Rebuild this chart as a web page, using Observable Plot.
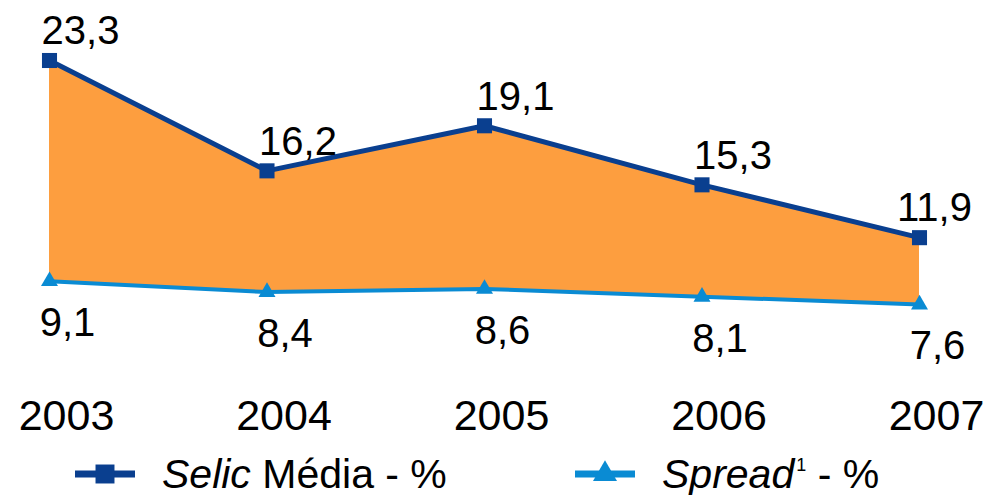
<!DOCTYPE html>
<html>
<head>
<meta charset="utf-8">
<script src="https://cdn.jsdelivr.net/npm/d3@7"></script>
<script src="https://cdn.jsdelivr.net/npm/@observablehq/plot@0.6"></script>
<style>
  body { margin: 0; background: #fff; font-family: "Liberation Sans", Arial, sans-serif; overflow: hidden; }
  #wrap { width: 994px; position: relative; }
  #legend { position: relative; width: 994px; height: 55px; font-size: 41px; color: #000; }
  .item { position: absolute; top: 1px; height: 66px; display: flex; align-items: center; }
  .item span { line-height: 1; }
  .item svg { margin-right: 27px; }
  sup { font-size: 18px; line-height: 0; vertical-align: 17px; margin-left: 2px; }
</style>
</head>
<body>
<div id="wrap">
  <div id="chart"></div>
  <div id="legend"></div>
</div>
<script>
const years = [2003, 2004, 2005, 2006, 2007];
const selic = [23.3, 16.2, 19.1, 15.3, 11.9];
const spread = [9.1, 8.4, 8.6, 8.1, 7.6];

const selicColor = "#0A3F8F";
const spreadColor = "#0A8BD3";
const fillColor = "#FD9E3F";

const data = years.map((year, i) => ({year, selic: selic[i], spread: spread[i]}));
const fmt = v => v.toFixed(1).replace(".", ",");

const chart = Plot.plot({
  width: 994,
  height: 440,
  marginBottom: 60,
  x: {domain: [2003, 2007], range: [49, 919], axis: null},
  y: {domain: [7.6, 23.3], range: [304, 60], axis: null},
  style: {fontFamily: "'Liberation Sans', Arial, sans-serif", color: "#000", background: "#fff"},
  marks: [
    Plot.areaY(data, {x: "year", y1: "spread", y2: "selic", fill: fillColor}),
    Plot.line(data, {x: "year", y: "selic", stroke: selicColor, strokeWidth: 5}),
    Plot.line(data, {x: "year", y: "spread", stroke: spreadColor, strokeWidth: 4}),
    Plot.dot(data, {x: "year", y: "selic", symbol: "square", r: 8.5, fill: selicColor}),
    Plot.dot(data, {x: "year", y: "spread", symbol: "triangle", r: 6.3, fill: spreadColor}),
    Plot.text(data.slice(0, 4), {x: "year", y: "selic", text: d => fmt(d.selic), dx: 31, dy: -29, fontSize: 40, fill: "#000"}),
    Plot.text(data.slice(4), {x: "year", y: "selic", text: d => fmt(d.selic), dx: 15, dy: -29, fontSize: 40, fill: "#000"}),
    Plot.text(data, {x: "year", y: "spread", text: d => fmt(d.spread), dx: 18, dy: 42, fontSize: 40, fill: "#000"}),
    Plot.axisX(years, {tickSize: 0, tickPadding: 19, fontSize: 43, dx: 17, tickFormat: d => String(d), color: "#000", label: null})
  ]
});
document.getElementById("chart").appendChild(chart);

// legend
const legendItems = [
  {left: 75, color: selicColor, symbol: d3.symbolSquare, size: Math.PI * 10.7 * 10.7, html: "<i>Selic</i>&nbsp;Média - %"},
  {left: 575, color: spreadColor, symbol: d3.symbolTriangle, size: Math.PI * 8.9 * 8.9, html: "<i>Spread</i><sup>1</sup>&nbsp;- %"}
];
const legend = document.getElementById("legend");
legendItems.forEach(it => {
  const div = document.createElement("div");
  div.className = "item";
  div.style.left = it.left + "px";
  const s = d3.create("svg").attr("width", 60).attr("height", 30);
  s.append("line").attr("x1", 0).attr("x2", 60).attr("y1", 15).attr("y2", 15)
    .attr("stroke", it.color).attr("stroke-width", 7);
  s.append("path").attr("d", d3.symbol(it.symbol, it.size)()).attr("transform", "translate(30,15)")
    .attr("fill", it.color);
  div.appendChild(s.node());
  const t = document.createElement("span");
  t.innerHTML = it.html;
  div.appendChild(t);
  legend.appendChild(div);
});
</script>
</body>
</html>
